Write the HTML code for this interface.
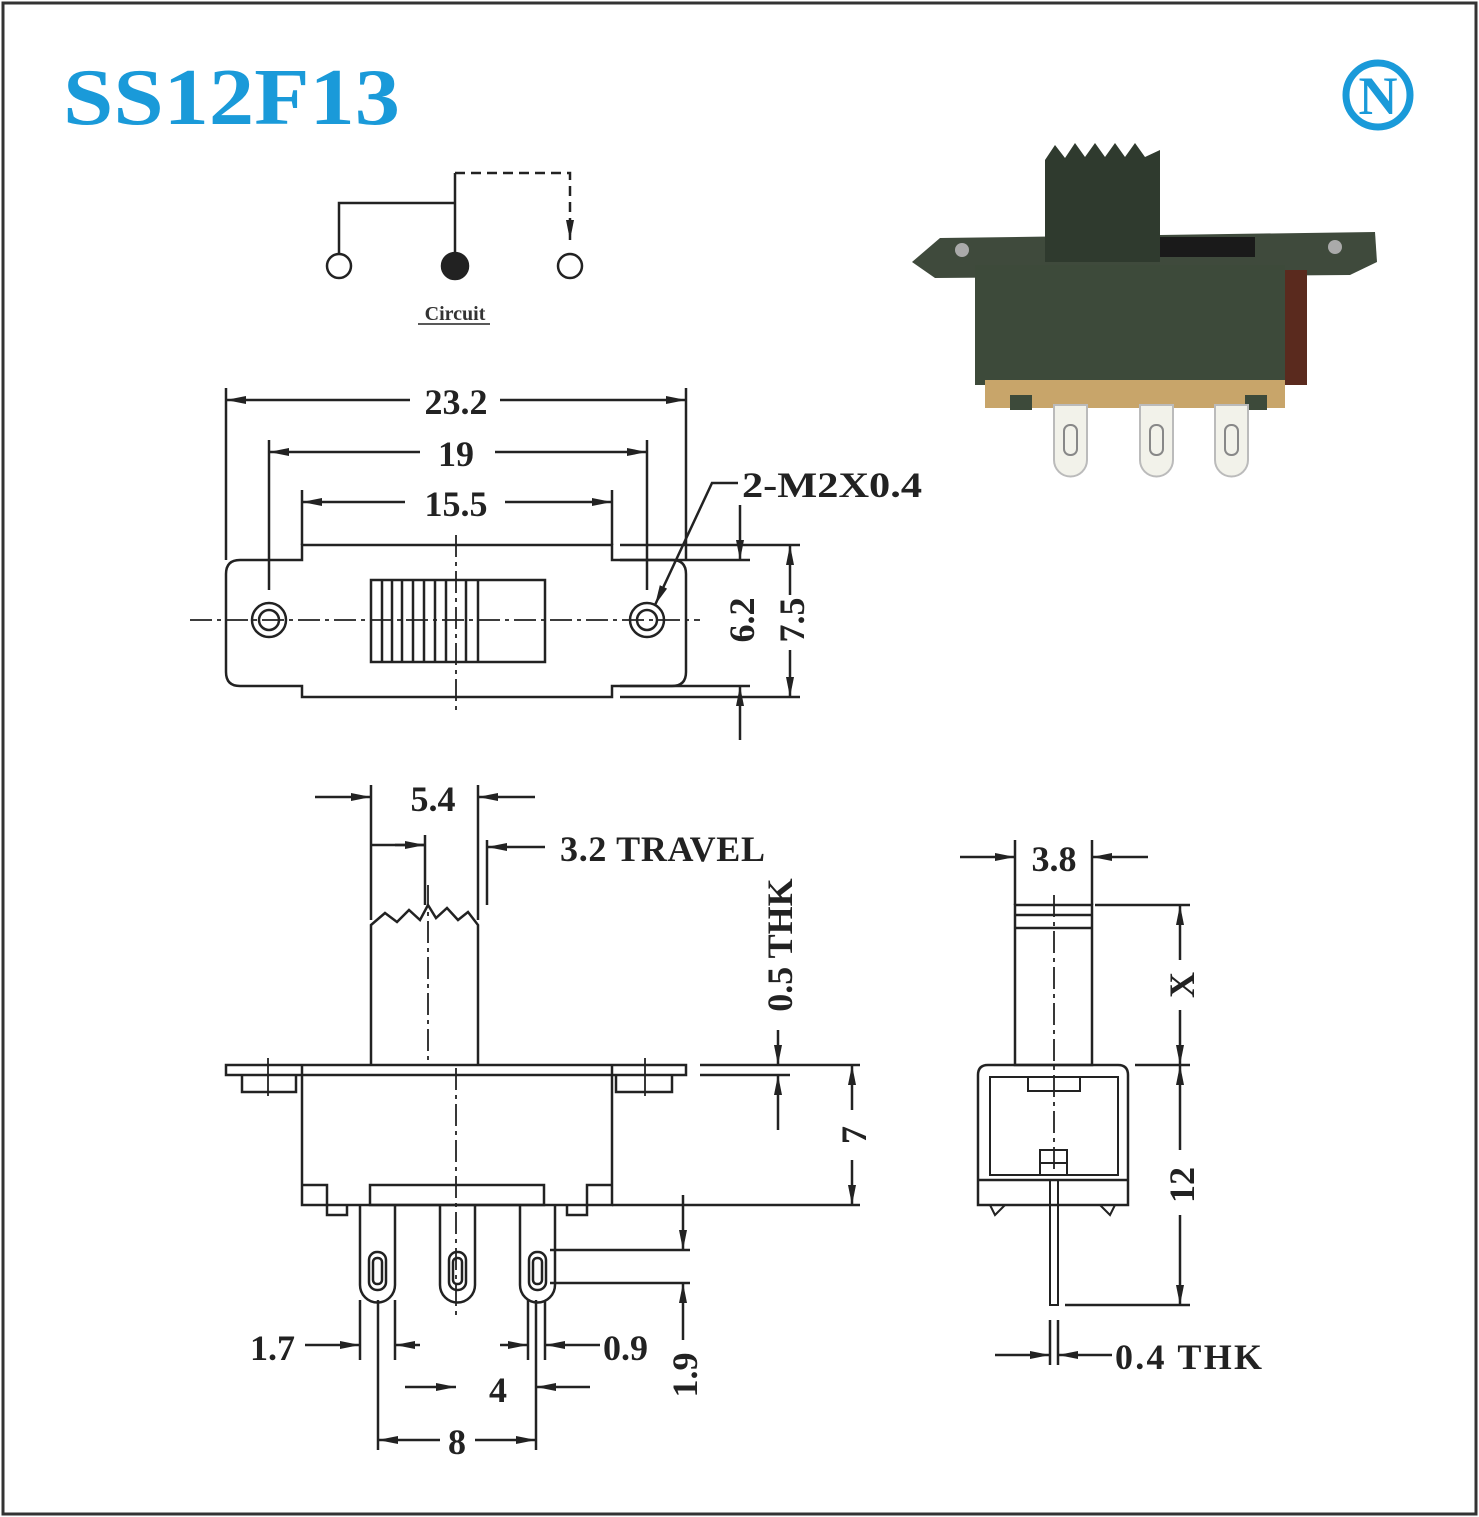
<!DOCTYPE html>
<html><head><meta charset="utf-8"><style>
html,body{margin:0;padding:0;background:#fff}
svg{display:block}
.t{font-family:"Liberation Serif",serif;font-weight:bold;font-size:36px;fill:#222}
</style></head><body>
<svg width="1479" height="1517" viewBox="0 0 1479 1517" xmlns="http://www.w3.org/2000/svg">
<defs>
<marker id="a" viewBox="0 0 20 10" refX="20" refY="5" markerWidth="20" markerHeight="10" markerUnits="userSpaceOnUse" orient="auto"><path d="M0,1 L20,5 L0,9 Z" fill="#222"/></marker>
</defs>
<rect x="3" y="3" width="1473" height="1511" fill="#fff" stroke="#333" stroke-width="3"/>
<text x="63" y="124" textLength="337" lengthAdjust="spacingAndGlyphs" font-family="Liberation Serif,serif" font-weight="bold" font-size="80" fill="#1a9ad9">SS12F13</text>
<circle cx="1378" cy="95" r="32" fill="#fff" stroke="#1a9ad9" stroke-width="7"/>
<text x="1378" y="114" text-anchor="middle" font-family="Liberation Serif,serif" font-weight="bold" font-size="54" fill="#1a9ad9">N</text>

<g stroke="#222" stroke-width="2.5" fill="none">
<path d="M339,254 V203 H455"/>
<path d="M455,254 V173"/>
<path d="M455,173 H570 V240" stroke-dasharray="10,6" marker-end="url(#a)"/>
<circle cx="339" cy="266" r="12" fill="#fff"/>
<circle cx="455" cy="266" r="13" fill="#222"/>
<circle cx="570" cy="266" r="12" fill="#fff"/>
<line x1="418" y1="324" x2="490" y2="324" stroke-width="1.5"/>
</g>
<text x="455" y="320" text-anchor="middle" font-family="Liberation Serif,serif" font-weight="bold" font-size="20" fill="#333">Circuit</text>

<g>
<path d="M912,262 L940,238 L1375,232 L1377,262 L1350,275 L935,278 Z" fill="#3f4a3c"/>
<circle cx="962" cy="250" r="7" fill="#aaa"/>
<circle cx="1335" cy="247" r="7" fill="#aaa"/>
<rect x="975" y="265" width="310" height="120" fill="#3d4a3a"/>
<rect x="1285" y="270" width="22" height="115" fill="#5a2a1e"/>
<rect x="1160" y="237" width="95" height="20" fill="#1a1a1a"/>
<path d="M1045,160 L1055,145 L1065,158 L1075,143 L1085,157 L1095,143 L1105,157 L1115,143 L1125,157 L1135,143 L1145,157 L1160,150 L1160,262 L1045,262 Z" fill="#2f3a2e"/>
<rect x="985" y="380" width="300" height="28" fill="#c8a56a"/>
<rect x="1010" y="395" width="22" height="15" fill="#3d4a3a"/>
<rect x="1245" y="395" width="22" height="15" fill="#3d4a3a"/>
<g fill="#f2f2ea" stroke="#bbb" stroke-width="2">
<path d="M1054,405 h33 v55 a16,16 0 0 1 -33,0 Z"/>
<path d="M1140,405 h33 v55 a16,16 0 0 1 -33,0 Z"/>
<path d="M1215,405 h33 v55 a16,16 0 0 1 -33,0 Z"/>
</g>
<g fill="none" stroke="#888" stroke-width="2">
<rect x="1064" y="425" width="13" height="30" rx="6"/>
<rect x="1150" y="425" width="13" height="30" rx="6"/>
<rect x="1225" y="425" width="13" height="30" rx="6"/>
</g>
</g>

<g stroke="#222" stroke-width="2.5" fill="none">
<path d="M302,545 H612 V560 H672 Q686,560 686,574 V672 Q686,686 672,686 H612 V697 H302 V686 H240 Q226,686 226,672 V574 Q226,560 240,560 H302 Z"/>
<circle cx="269" cy="620" r="17"/><circle cx="269" cy="620" r="10"/>
<circle cx="647" cy="620" r="17"/><circle cx="647" cy="620" r="10"/>
<rect x="371" y="580" width="174" height="82"/>
<path d="M382,580V662 M392,580V662 M402,580V662 M413,580V662 M424,580V662 M435,580V662 M446,580V662 M466,580V662 M478,580V662"/>
<path d="M190,620 H700 M456,535 V710" stroke-dasharray="22,5,4,5" stroke-width="1.8"/>
<path d="M226,388 V560 M686,388 V560 M269,440 V590 M647,440 V590 M302,490 V545 M612,490 V545"/>
<path d="M410,400 H226" marker-end="url(#a)"/><path d="M500,400 H686" marker-end="url(#a)"/>
<path d="M420,452 H269" marker-end="url(#a)"/><path d="M495,452 H647" marker-end="url(#a)"/>
<path d="M405,502 H302" marker-end="url(#a)"/><path d="M505,502 H612" marker-end="url(#a)"/>
<path d="M738,483 H712 L655,605" marker-end="url(#a)"/>
<path d="M620,545 H800 M620,697 H800 M620,560 H750 M620,686 H750"/>
<path d="M740,505 V560" marker-end="url(#a)"/><path d="M740,740 V686" marker-end="url(#a)"/>
<path d="M790,595 V545" marker-end="url(#a)"/><path d="M790,650 V697" marker-end="url(#a)"/>

<path d="M226,1065 H686 V1075 H226 Z"/>
<path d="M242,1075 V1092 H296 V1075 M616,1075 V1092 H672 V1075"/>
<path d="M268,1058 V1096 M645,1058 V1096" stroke-width="1.8"/>
<path d="M302,1065 V1205 H612 V1065"/>
<path d="M302,1185 H327 V1205 M327,1205 V1215 H347 V1205 M612,1185 H587 V1205 M587,1205 V1215 H567 V1205"/>
<rect x="370" y="1185" width="174" height="20"/>
<path d="M371,1065 V925 L385,913 L397,922 L409,910 L420,920 L428,905 L436,918 L447,908 L458,920 L468,912 L478,925 V1065"/>
<path d="M456,1068 V1320 M428,885 V1065" stroke-dasharray="22,5,4,5" stroke-width="1.8"/>
<g id="pin"><path d="M360,1205 V1285 a17,17 0 0 0 35,0 V1205"/><rect x="369" y="1252" width="17" height="38" rx="8"/><rect x="373" y="1258" width="9" height="26" rx="4"/></g>
<use href="#pin" transform="translate(80,0)"/>
<use href="#pin" transform="translate(160,0)"/>
<path d="M378,1300 V1450 M536,1300 V1450 M360,1300 V1360 M545,1300 V1360 M528,1300 V1360 M395,1300 V1360"/>
<path d="M371,785 V920 M478,785 V920 M425,835 V905 M487,840 V905"/>
<path d="M315,797 H371" marker-end="url(#a)"/><path d="M535,797 H478" marker-end="url(#a)"/>
<path d="M371,845 H425"/><path d="M395,845 H425" marker-end="url(#a)"/>
<path d="M545,847 H487" marker-end="url(#a)"/>
<path d="M700,1065 H860 M700,1075 H790 M612,1205 H860 M550,1250 H690 M550,1283 H690"/>
<path d="M778,1030 V1065" marker-end="url(#a)"/><path d="M778,1130 V1075" marker-end="url(#a)"/>
<path d="M852,1110 V1065" marker-end="url(#a)"/><path d="M852,1160 V1205" marker-end="url(#a)"/>
<path d="M683,1195 V1250" marker-end="url(#a)"/><path d="M683,1340 V1283" marker-end="url(#a)"/>
<path d="M305,1345 H360" marker-end="url(#a)"/><path d="M420,1345 H395" marker-end="url(#a)"/>
<path d="M500,1345 H528" marker-end="url(#a)"/><path d="M600,1345 H545" marker-end="url(#a)"/>
<path d="M405,1387 H456" marker-end="url(#a)"/><path d="M590,1387 H536" marker-end="url(#a)"/>
<path d="M440,1440 H378" marker-end="url(#a)"/><path d="M475,1440 H536" marker-end="url(#a)"/>

<rect x="1015" y="905" width="77" height="160"/>
<path d="M1015,915 H1092 M1015,928 H1092"/>
<path d="M978,1205 V1075 Q978,1065 988,1065 H1118 Q1128,1065 1128,1075 V1205 Z"/>
<path d="M978,1180 H1128"/>
<path d="M990,1175 V1077 H1118 V1175 Z" stroke-width="2"/>
<rect x="1028" y="1077" width="52" height="14" stroke-width="2"/>
<path d="M1040,1175 V1150 H1067 V1175 M1040,1163 H1067" stroke-width="2"/>
<path d="M990,1205 L995,1215 L1005,1205 M1115,1205 L1110,1215 L1100,1205" stroke-width="2"/>
<rect x="1050" y="1180" width="8" height="125" stroke-width="2"/>
<path d="M1054,895 V1170" stroke-dasharray="22,5,4,5" stroke-width="1.8"/>
<path d="M1015,840 V905 M1092,840 V905 M1050,1320 V1365 M1058,1320 V1365"/>
<path d="M960,857 H1015" marker-end="url(#a)"/><path d="M1148,857 H1092" marker-end="url(#a)"/>
<path d="M1095,905 H1190 M1135,1065 H1190 M1065,1305 H1190"/>
<path d="M1180,960 V905" marker-end="url(#a)"/><path d="M1180,1010 V1065" marker-end="url(#a)"/>
<path d="M1180,1150 V1065" marker-end="url(#a)"/><path d="M1180,1215 V1305" marker-end="url(#a)"/>
<path d="M995,1355 H1050" marker-end="url(#a)"/><path d="M1112,1355 H1058" marker-end="url(#a)"/>
</g>

<g class="t">
<text x="456" y="414" text-anchor="middle">23.2</text>
<text x="456" y="466" text-anchor="middle">19</text>
<text x="456" y="516" text-anchor="middle">15.5</text>
<text x="742" y="497" textLength="180" lengthAdjust="spacingAndGlyphs">2-M2X0.4</text>
<text transform="translate(754,620) rotate(-90)" text-anchor="middle">6.2</text>
<text transform="translate(804,620) rotate(-90)" text-anchor="middle">7.5</text>
<text x="433" y="811" text-anchor="middle">5.4</text>
<text x="560" y="861" textLength="205" lengthAdjust="spacing">3.2  TRAVEL</text>
<text transform="translate(792,945) rotate(-90)" text-anchor="middle">0.5  THK</text>
<text transform="translate(866,1135) rotate(-90)" text-anchor="middle">7</text>
<text transform="translate(697,1375) rotate(-90)" text-anchor="middle">1.9</text>
<text x="250" y="1360">1.7</text>
<text x="603" y="1360">0.9</text>
<text x="498" y="1402" text-anchor="middle">4</text>
<text x="457" y="1454" text-anchor="middle">8</text>
<text x="1054" y="871" text-anchor="middle">3.8</text>
<text transform="translate(1194,985) rotate(-90)" text-anchor="middle">X</text>
<text transform="translate(1194,1185) rotate(-90)" text-anchor="middle">12</text>
<text x="1115" y="1369" textLength="147" lengthAdjust="spacing">0.4  THK</text>
</g>
</svg>
</body></html>
